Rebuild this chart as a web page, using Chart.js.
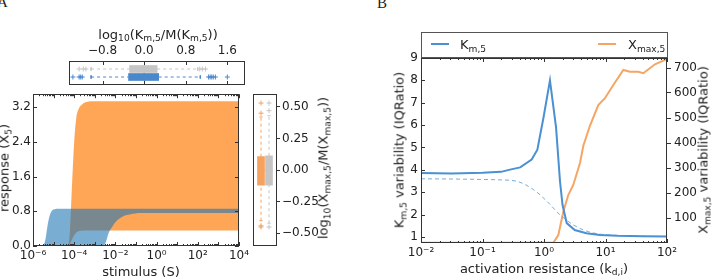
<!DOCTYPE html>
<html>
<head>
<meta charset="utf-8">
<script src="https://cdn.jsdelivr.net/npm/chart.js@4/dist/chart.umd.min.js"></script>
<style>
  body { margin: 0; width: 712px; height: 280px; overflow: hidden; background: #fff; position: relative; font-family: "DejaVu Sans", sans-serif; color: #222; }
  canvas { position: absolute; }
  .lbl { position: absolute; font-size: 13px; white-space: nowrap; line-height: 1; }
  .ctr { transform: translate(-50%, -50%); }
  .rot { transform: translate(-50%, -50%) rotate(-90deg); }
  sub { font-size: 70%; vertical-align: -0.3em; line-height: 0; }
  .panel { font-family: "Liberation Serif", serif; font-size: 15px; }
</style>
</head>
<body>

<canvas id="cTop" width="190" height="60" style="left:60px; top:30px;"></canvas>
<canvas id="cA" width="252" height="195" style="left:0px; top:85px;"></canvas>
<canvas id="cRight" width="82" height="195" style="left:248px; top:85px;"></canvas>
<canvas id="cB" width="332" height="250" style="left:380px; top:30px;"></canvas>

<div class="lbl panel" style="left:-3px; top:-5px;">A</div>
<div class="lbl panel" style="left:377px; top:-4px;">B</div>

<div class="lbl ctr" style="left:158px; top:34px;">log<sub>10</sub>(K<sub>m,5</sub>/M(K<sub>m,5</sub>))</div>
<div class="lbl rot" style="left:323px; top:168px;">log<sub>10</sub>(X<sub>max,5</sub>/M(X<sub>max,5</sub>))</div>
<div class="lbl rot" style="left:4px; top:168px;">response (X<sub>5</sub>)</div>
<div class="lbl ctr" style="left:141px; top:271px;">stimulus (S)</div>

<div class="lbl rot" style="left:399px; top:150px;">K<sub>m,5</sub> variability (IQRatio)</div>
<div class="lbl rot" style="left:703px; top:150px;">X<sub>max,5</sub> variability (IQRatio)</div>
<div class="lbl ctr" style="left:544px; top:268px;">activation resistance (k<sub>d,i</sub>)</div>

<div style="position:absolute; left:421px; top:32px; width:245px; height:24px; border:1px solid #555;">
  <span style="position:absolute; left:9px; top:10px; width:18px; height:2px; background:#4a90d2;"></span>
  <span class="lbl" style="left:38px; top:5px;">K<sub>m,5</sub></span>
  <span style="position:absolute; left:176px; top:10px; width:18px; height:2px; background:#f5a564;"></span>
  <span class="lbl" style="left:206px; top:5px;">X<sub>max,5</sub></span>
</div>

<script>
// ---- panel A: response bands (min / max over samples) ----
const stimBlue = [1e-6, 2.5e-6, 3.2e-6, 4e-6, 5e-6, 6.3e-6, 8e-6, 1e-5, 1.6e-5, 2.5e-3, 3.5e-3, 4.7e-3, 7.2e-3, 1.1e-2, 2.3e-2, 5.5e-2, 0.16, 1e4];
const kmBandLow = [0, 0, 0, 0, 0, 0, 0, 0, 0, 0, 0.1, 0.3, 0.45, 0.57, 0.68, 0.73, 0.76, 0.76];
const kmBandHigh = [0, 0, 0.02, 0.15, 0.45, 0.68, 0.8, 0.84, 0.86, 0.86, 0.86, 0.86, 0.86, 0.86, 0.86, 0.86, 0.86, 0.86];
const stimOrange = [4e-5, 5e-5, 6.3e-5, 8e-5, 1e-4, 1.26e-4, 1.6e-4, 2.5e-4, 4e-4, 1e-3, 1e4];
const xmaxBandLow = [0, 0, 0.06, 0.16, 0.25, 0.31, 0.34, 0.35, 0.355, 0.36, 0.36];
const xmaxBandHigh = [0, 0, 0.4, 1.5, 2.4, 2.95, 3.15, 3.27, 3.32, 3.34, 3.34];

const stimTickValues = [1e-6, 1e-4, 1e-2, 1, 1e2, 1e4];
const stimTickLabels = ['10⁻⁶', '10⁻⁴', '10⁻²', '10⁰', '10²', '10⁴'];
const responseTicks = [0, 0.8, 1.6, 2.4, 3.2];

// top box plot, rows: reference (gray), sampled (blue)
const kmQ1 = [-0.28, -0.30];
const kmMed = [0, 0];
const kmQ3 = [0.25, 0.28];
const kmWhiskLo = [-1.02, -1.02];
const kmWhiskHi = [1.03, 1.08];
const kmFliersGray = [-1.25, -1.17, -1.12, 1.07, 1.12, 1.18];
const kmFliersBlue = [-1.37, -1.25, -1.22, -1.19, 1.24, 1.27, 1.3, 1.33, 1.37, 1.6];
const kmTicks = [-0.8, 0, 0.8, 1.6];

// right box plot, columns: sampled (orange), reference (gray)
const xmQ1 = [-0.12, -0.12];
const xmMed = [0, 0];
const xmQ3 = [0.106, 0.113];
const xmWhiskLo = [-0.40, -0.42];
const xmWhiskHi = [0.42, 0.43];
const xmFliersOrange = [0.45, 0.53, -0.44, -0.45];
const xmFliersGray = [0.47, 0.53, -0.45];
const xmTicks = [-0.5, -0.25, 0, 0.25, 0.5];

// ---- panel B: variability vs activation resistance ----
const kdKm = [0.01, 0.0316, 0.1, 0.2, 0.28, 0.41, 0.63, 0.78, 0.98, 1.25, 1.57, 1.82, 2.0, 2.34, 3.16, 4.9, 8.1, 15.8, 40, 100];
const kmVar = [3.86, 3.84, 3.87, 3.91, 4.01, 4.11, 4.46, 4.9, 6.33, 8.0, 5.9, 3.49, 2.44, 1.62, 1.31, 1.17, 1.09, 1.05, 1.03, 1.02];
const kdKmRef = [0.01, 0.0316, 0.1, 0.2, 0.36, 0.68, 1.12, 1.82, 3.0, 4.4, 6.3, 10, 31.6, 100];
const kmRef = [3.6, 3.59, 3.57, 3.55, 3.49, 3.11, 2.59, 1.99, 1.54, 1.31, 1.18, 1.1, 1.04, 1.02];
const kdXmax = [0.01, 1.0, 1.42, 1.71, 2.06, 2.48, 2.99, 3.85, 4.37, 5.6, 7.64, 9.8, 13.4, 19.5, 25, 34.1, 41.2, 63.8, 92.7, 100];
const xmaxVar = [1, 1, 1, 32, 125, 192, 232, 320, 390, 470, 552, 579, 632, 692, 685, 685, 679, 715, 732, 738];
const kdXmaxRef = [0.01, 100];
const xmaxRef = [1, 1];

const kdTickValues = [0.01, 0.1, 1, 10, 100];
const kdTickLabels = ['10⁻²', '10⁻¹', '10⁰', '10¹', '10²'];
const kmVarTicks = [1, 2, 3, 4, 5, 6, 7, 8, 9];
const xmaxVarTicks = [100, 200, 300, 400, 500, 600, 700];

// colours
const BLUE = '#4a90d2', ORANGE = '#f5a564', GRAY = '#c5c5c5';
const BOX_BLUE = '#4a88cc', BOX_ORANGE = '#f6a25e';

Chart.defaults.font.family = 'DejaVu Sans';
Chart.defaults.font.size = 12;
Chart.defaults.color = '#222';

const pts = (xs, ys) => xs.map((x, i) => ({x: x, y: ys[i]}));
const minus = s => s.replace('-', '−');
const labelFor = (vals, labels) => v => {
    const i = vals.findIndex(w => Math.abs(v / w - 1) < 1e-6);
    return i < 0 ? '' : labels[i];
};
const fixedTicks = list => scale => { scale.ticks = list.map(v => ({value: v})); };
function logTicks(scale) {
    const lo = Math.round(Math.log10(scale.min)), hi = Math.round(Math.log10(scale.max));
    const t = [];
    for (let e = lo; e <= hi; e++) {
        for (let m = 1; m <= 9; m++) {
            const v = m * Math.pow(10, e);
            if (v <= scale.max * 1.000001) t.push({value: v});
        }
    }
    scale.ticks = t;
}
const noGrid = {display: false, drawTicks: false};
const noBorder = {display: false};

// frame round the plot area
const frame = {
    id: 'frame',
    afterDatasetsDraw(chart) {
        const a = chart.chartArea, ctx = chart.ctx;
        ctx.save();
        ctx.strokeStyle = '#333';
        ctx.lineWidth = 1;
        ctx.strokeRect(Math.round(a.left) + 0.5, Math.round(a.top) + 0.5,
            Math.round(a.right - a.left) - 1, Math.round(a.bottom - a.top) - 1);
        ctx.restore();
    }
};

// matplotlib style ticks pointing into the plot
const innerTicks = {
    id: 'innerTicks',
    afterDatasetsDraw(chart, args, opts) {
        const a = chart.chartArea, ctx = chart.ctx;
        ctx.save();
        ctx.strokeStyle = '#333';
        ctx.lineWidth = 1;
        ctx.beginPath();
        (opts.axes || []).forEach(spec => {
            const sc = chart.scales[spec.id];
            const isLog = sc.type === 'logarithmic';
            sc.ticks.forEach(t => {
                const e = isLog ? Math.log10(t.value) : 0;
                const len = (!isLog || Math.abs(e - Math.round(e)) < 1e-6) ? 4 : 2;
                const p = Math.round(sc.getPixelForValue(t.value)) + 0.5;
                spec.sides.forEach(side => {
                    if (side === 'bottom') { ctx.moveTo(p, a.bottom); ctx.lineTo(p, a.bottom - len); }
                    if (side === 'top') { ctx.moveTo(p, a.top); ctx.lineTo(p, a.top + len); }
                    if (side === 'left') { ctx.moveTo(a.left, p); ctx.lineTo(a.left + len, p); }
                    if (side === 'right') { ctx.moveTo(a.right, p); ctx.lineTo(a.right - len, p); }
                });
            });
        });
        ctx.stroke();
        ctx.restore();
    }
};

function seg(data, color, dashed) {
    return {type: 'line', data: data, borderColor: color, borderWidth: 1,
        borderDash: dashed ? [3, 3] : [], pointRadius: 0, fill: false};
}
function fliers(data, color) {
    return {type: 'line', data: data, showLine: false, pointStyle: 'cross',
        pointRadius: 2.5, borderColor: color, borderWidth: 1};
}

// ---- main panel A ----
new Chart(document.getElementById('cA'), {
    type: 'line',
    data: {
        datasets: [
            {data: pts(stimBlue, kmBandLow), borderWidth: 0, borderColor: 'transparent', pointRadius: 0, fill: false},
            {data: pts(stimBlue, kmBandHigh), borderWidth: 0, borderColor: 'transparent', pointRadius: 0,
                fill: '-1', backgroundColor: 'rgba(31,119,180,0.6)'},
            {data: pts(stimOrange, xmaxBandLow), borderWidth: 0, borderColor: 'transparent', pointRadius: 0, fill: false},
            {data: pts(stimOrange, xmaxBandHigh), borderWidth: 0, borderColor: 'transparent', pointRadius: 0,
                fill: '-1', backgroundColor: 'rgba(255,127,14,0.7)'}
        ]
    },
    options: {
        responsive: false, animation: false,
        layout: {padding: {top: 6, right: 4, left: 0, bottom: 0}},
        elements: {line: {cubicInterpolationMode: 'monotone'}},
        plugins: {
            legend: {display: false}, tooltip: {enabled: false},
            innerTicks: {axes: [{id: 'x', sides: ['top', 'bottom']}, {id: 'y', sides: ['left', 'right']}]}
        },
        scales: {
            x: {type: 'logarithmic', min: 1e-6, max: 1e4, afterBuildTicks: logTicks,
                afterFit(s) { s.height = 34; }, grid: noGrid, border: noBorder,
                ticks: {autoSkip: false, maxRotation: 0, padding: 3, callback: labelFor(stimTickValues, stimTickLabels)}},
            y: {type: 'linear', min: 0, max: 3.5, afterBuildTicks: fixedTicks(responseTicks),
                afterFit(s) { s.width = 33; }, grid: noGrid, border: noBorder,
                ticks: {padding: 2, callback: v => v.toFixed(1)}}
        }
    },
    plugins: [frame, innerTicks]
});

// ---- top box plot (Km,5) ----
const kmRows = [1, 2];
const topSets = [{
    type: 'bar', indexAxis: 'y', barThickness: 7,
    data: kmRows.map((r, i) => ({x: [kmQ1[i], kmQ3[i]], y: r})),
    backgroundColor: [GRAY, BOX_BLUE]
}];
const kmCols = [GRAY, BOX_BLUE];
kmRows.forEach((r, i) => {
    const c = kmCols[i];
    topSets.push(seg([{x: kmWhiskLo[i], y: r}, {x: kmQ1[i], y: r}], c, true));
    topSets.push(seg([{x: kmQ3[i], y: r}, {x: kmWhiskHi[i], y: r}], c, true));
    topSets.push(seg([{x: kmWhiskLo[i], y: r - 0.2}, {x: kmWhiskLo[i], y: r + 0.2}], c, false));
    topSets.push(seg([{x: kmWhiskHi[i], y: r - 0.2}, {x: kmWhiskHi[i], y: r + 0.2}], c, false));
    topSets.push(seg([{x: kmMed[i], y: r - 0.4}, {x: kmMed[i], y: r + 0.4}], '#222', false));
});
topSets.push(fliers(kmFliersGray.map(v => ({x: v, y: kmRows[0]})), GRAY));
topSets.push(fliers(kmFliersBlue.map(v => ({x: v, y: kmRows[1]})), BOX_BLUE));

new Chart(document.getElementById('cTop'), {
    type: 'line',
    data: {datasets: topSets},
    options: {
        responsive: false, animation: false,
        layout: {padding: {top: 0, right: 2, left: 9, bottom: 2}},
        plugins: {
            legend: {display: false}, tooltip: {enabled: false},
            innerTicks: {axes: [{id: 'x', sides: ['top', 'bottom']}]}
        },
        scales: {
            x: {type: 'linear', position: 'top', min: -1.445, max: 1.94, offset: false,
                afterBuildTicks: fixedTicks(kmTicks), afterFit(s) { s.height = 31; },
                grid: noGrid, border: noBorder,
                ticks: {padding: 3, maxRotation: 0, callback: v => minus(v.toFixed(1))}},
            y: {type: 'linear', min: 0, max: 3, reverse: true, display: false, offset: false}
        }
    },
    plugins: [frame, innerTicks]
});

// ---- right box plot (Xmax,5) ----
const xmCols = [1, 2];
const xmColours = [BOX_ORANGE, GRAY];
const rightSets = [{
    type: 'bar', barThickness: 7,
    data: xmCols.map((c, i) => ({x: c, y: [xmQ1[i], xmQ3[i]]})),
    backgroundColor: xmColours
}];
xmCols.forEach((c, i) => {
    const col = xmColours[i];
    rightSets.push(seg([{x: c, y: xmWhiskLo[i]}, {x: c, y: xmQ1[i]}], col, true));
    rightSets.push(seg([{x: c, y: xmQ3[i]}, {x: c, y: xmWhiskHi[i]}], col, true));
    rightSets.push(seg([{x: c - 0.2, y: xmWhiskLo[i]}, {x: c + 0.2, y: xmWhiskLo[i]}], col, false));
    rightSets.push(seg([{x: c - 0.2, y: xmWhiskHi[i]}, {x: c + 0.2, y: xmWhiskHi[i]}], col, false));
    rightSets.push(seg([{x: c - 0.4, y: xmMed[i]}, {x: c + 0.4, y: xmMed[i]}], '#222', false));
});
rightSets.push(fliers(xmFliersOrange.map(v => ({x: xmCols[0], y: v})), BOX_ORANGE));
rightSets.push(fliers(xmFliersGray.map(v => ({x: xmCols[1], y: v})), GRAY));

new Chart(document.getElementById('cRight'), {
    type: 'line',
    data: {datasets: rightSets},
    options: {
        responsive: false, animation: false,
        layout: {padding: {top: 6, right: 0, left: 3, bottom: 34}},
        plugins: {legend: {display: false}, tooltip: {enabled: false}},
        scales: {
            x: {type: 'linear', min: 0, max: 3, display: false, offset: false},
            y: {type: 'linear', position: 'right', min: -0.6, max: 0.6,
                afterBuildTicks: fixedTicks(xmTicks), afterFit(s) { s.width = 53; },
                grid: {display: true, drawOnChartArea: false, drawTicks: true, tickLength: 3, color: '#333'},
                border: noBorder,
                ticks: {padding: 2, callback: v => minus(v.toFixed(2))}}
        }
    },
    plugins: [frame]
});

// ---- panel B ----
new Chart(document.getElementById('cB'), {
    type: 'line',
    data: {
        datasets: [
            {data: pts(kdKm, kmVar), yAxisID: 'y', borderColor: BLUE, borderWidth: 2, pointRadius: 0},
            {data: pts(kdKmRef, kmRef), yAxisID: 'y', borderColor: 'rgba(74,144,210,0.75)', borderWidth: 1,
                borderDash: [4, 3], pointRadius: 0, cubicInterpolationMode: 'monotone'},
            {data: pts(kdXmax, xmaxVar), yAxisID: 'y2', borderColor: ORANGE, borderWidth: 2, pointRadius: 0},
            {data: pts(kdXmaxRef, xmaxRef), yAxisID: 'y2', borderColor: ORANGE, borderWidth: 1,
                borderDash: [4, 3], pointRadius: 0}
        ]
    },
    options: {
        responsive: false, animation: false,
        layout: {padding: {top: 28, right: 0, left: 0, bottom: 0}},
        plugins: {
            legend: {display: false}, tooltip: {enabled: false},
            innerTicks: {axes: [{id: 'x', sides: ['top', 'bottom']}, {id: 'y', sides: ['left']}]}
        },
        scales: {
            x: {type: 'logarithmic', min: 0.01, max: 100, afterBuildTicks: logTicks,
                afterFit(s) { s.height = 37; }, grid: noGrid, border: noBorder,
                ticks: {autoSkip: false, maxRotation: 0, padding: 3, callback: labelFor(kdTickValues, kdTickLabels)}},
            y: {type: 'linear', position: 'left', min: 0.73, max: 9, afterBuildTicks: fixedTicks(kmVarTicks),
                afterFit(s) { s.width = 41; }, grid: noGrid, border: noBorder,
                ticks: {padding: 3, callback: v => String(v)}},
            y2: {type: 'linear', position: 'right', min: 0, max: 740, afterBuildTicks: fixedTicks(xmaxVarTicks),
                afterFit(s) { s.width = 45; },
                grid: {display: true, drawOnChartArea: false, drawTicks: true, tickLength: 4, color: '#333'},
                border: noBorder,
                ticks: {padding: 3, callback: v => String(v)}}
        }
    },
    plugins: [frame, innerTicks]
});
</script>
</body>
</html>
